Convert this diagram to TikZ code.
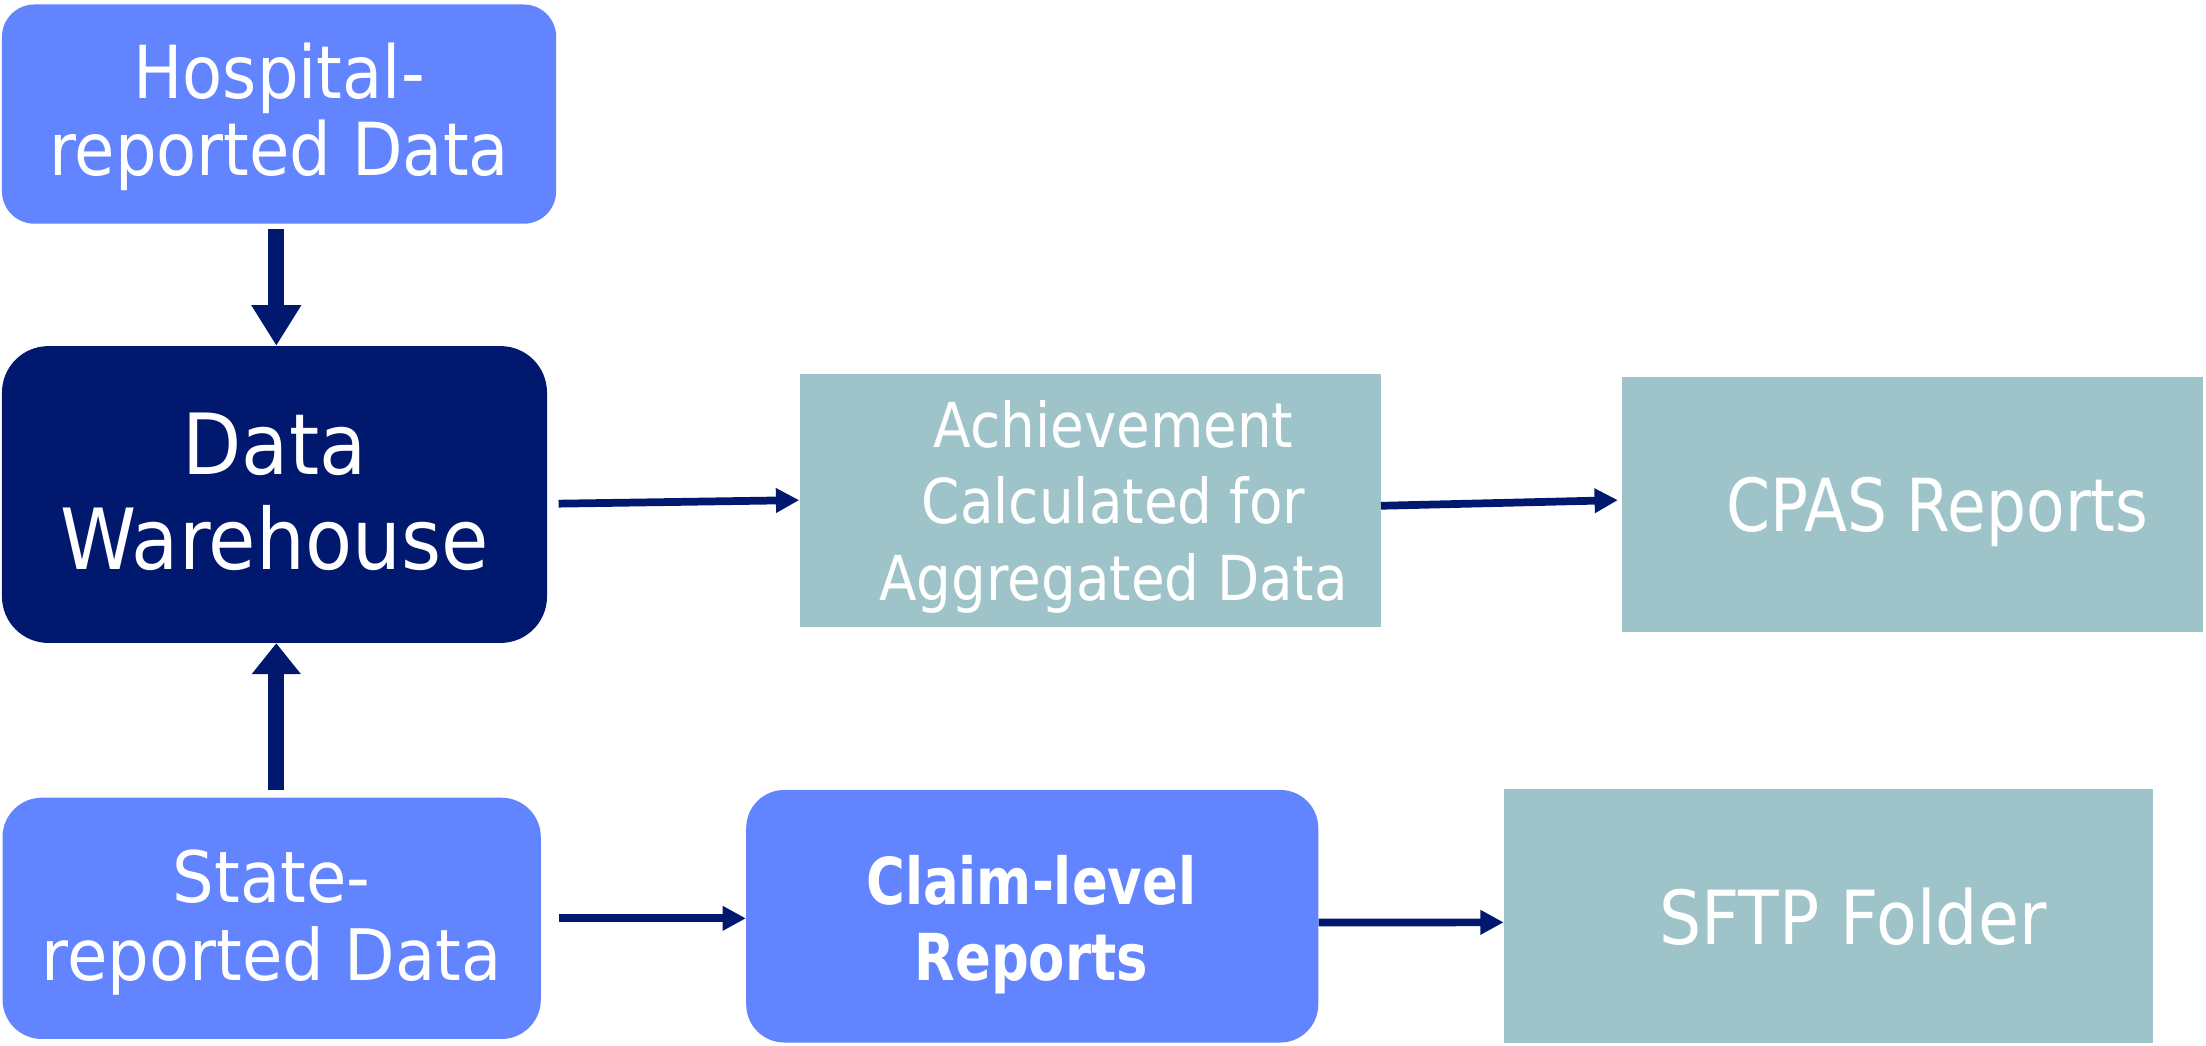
\documentclass[tikz,border=0pt]{standalone}
\usepackage{fontspec}
\setmainfont{DejaVu Sans}
\usepackage{graphicx}
\usetikzlibrary{arrows.meta,calc}
\definecolor{lblue}{HTML}{6285FF}
\definecolor{navy}{HTML}{00196E}
\definecolor{tealbox}{HTML}{9EC4C9}
\newcommand\tlines[3]{\scalebox{#1}[1]{\vtop{\baselineskip=#2\lineskiplimit=-100pt\lineskip=0pt\halign{\hfil##\hfil\cr#3\crcr}}}}
\begin{document}
\begin{tikzpicture}[x=1pt,y=-1pt,
  rbox/.style={draw=none, fill=lblue, rectangle, inner sep=0pt, rounded corners=#1},
  dbox/.style={draw=none, fill=navy, rectangle, inner sep=0pt, rounded corners=#1},
  sbox/.style={draw=none, fill=tealbox, rectangle, inner sep=0pt},
  lbl/.style={inner sep=0pt, anchor=base, text=white},
  blockarrow/.style={draw=navy, line width=11.4pt, -{Triangle[width=33.6pt,length=#1]}},
  flow/.style={draw=navy, line width=5.5pt, -{Triangle[width=16.6pt,length=16.6pt]}}]
\useasboundingbox (0,0) rectangle (1568,743);
% boxes
\node[rbox=23pt, minimum width=393.9pt, minimum height=155.8pt] (hosp) at (198.35,81.1) {};
\node[dbox=33pt, minimum width=387.4pt, minimum height=211pt] (dw) at (195.1,351.5) {};
\node[rbox=28pt, minimum width=382.6pt, minimum height=171.5pt] (state) at (193.1,652.75) {};
\node[rbox=27pt, minimum width=406.6pt, minimum height=179.5pt] (claim) at (733.7,651.25) {};
\node[sbox, minimum width=413.1pt, minimum height=180pt] (ach) at (774.85,356) {};
\node[sbox, minimum width=412.9pt, minimum height=181pt] (cpas) at (1359.65,358.5) {};
\node[sbox, minimum width=461pt, minimum height=180pt] (sftp) at (1299.5,651) {};
% texts
\node[lbl, font=\fontsize{52}{55}\selectfont] (hospT) at (198.35,70) {\tlines{0.897}{55pt}{Hospital-\cr reported Data}};
\node[lbl, font=\fontsize{60}{67.5}\selectfont] (dwT) at (195.1,337) {\tlines{0.912}{67.5pt}{Data\cr Warehouse}};
\node[lbl, font=\fontsize{50.5}{55}\selectfont] (stateT) at (193.1,641.6) {\tlines{0.924}{55pt}{State-\cr reported Data}};
\node[lbl, font=\fontsize{44}{54.6}\selectfont] (achT) at (791.5,317.8) {\tlines{0.885}{54.6pt}{Achievement\cr Calculated for\cr Aggregated Data}};
\node[lbl, font=\bfseries\fontsize{46}{54.3}\selectfont] (claimT) at (733,642.7) {\tlines{0.816}{54.3pt}{Claim-level\cr Reports}};
\node[lbl, font=\fontsize{52}{60}\selectfont] (cpasT) at (1377,378) {\tlines{0.86}{60pt}{CPAS Reports}};
\node[lbl, font=\fontsize{53}{60}\selectfont] (sftpT) at (1317,671.4) {\tlines{0.893}{60pt}{SFTP Folder}};
% connectors
\coordinate (ax) at (196.4,0);
\draw[blockarrow=29pt] ($(hosp.south -| ax)+(0,3.5)$) -- (dw.north -| ax);
\draw[blockarrow=22pt] ($(state.north -| ax)+(0,-5.5)$) -- (dw.south -| ax);
\draw[flow] ($(dw.east)+(8,6.5)$) -- ($(ach.west)+(0,-0.5)$);
\draw[flow] ($(ach.east)+(0,3.5)$) -- ($(cpas.west)+(-3,-3)$);
\draw[flow] ($(state.east)+(12.6,0)$) -- (claim.west |- state.east);
\draw[flow] ($(claim.east)+(0,4.4)$) -- ($(sftp.west)+(0,4.6)$);
\end{tikzpicture}
\end{document}
